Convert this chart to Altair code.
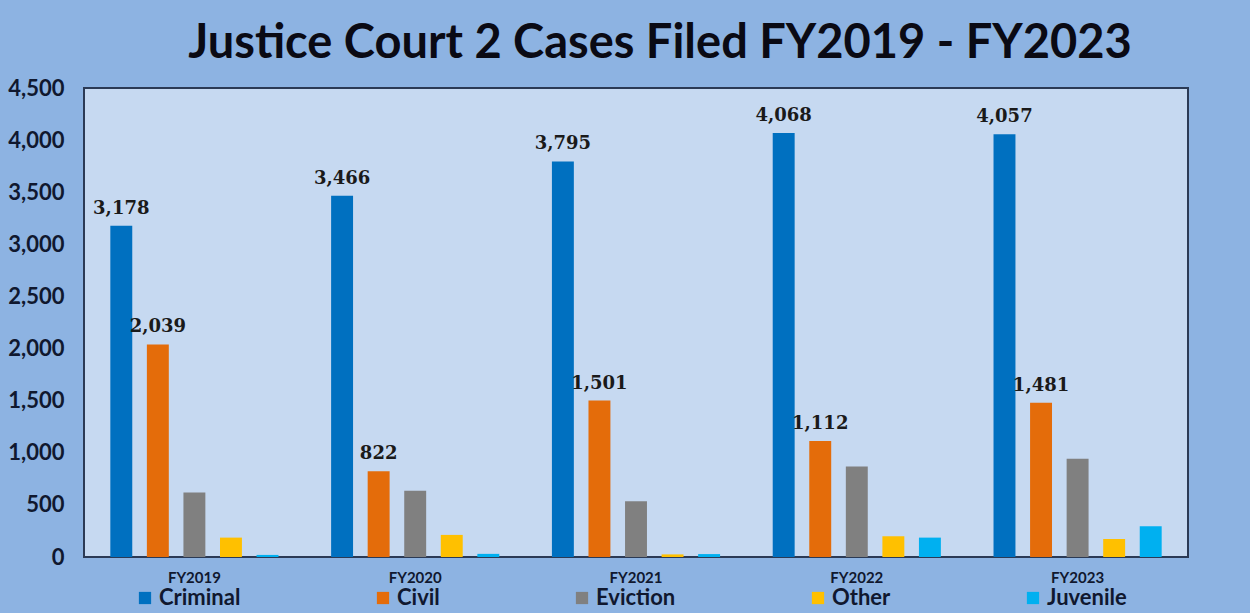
import altair as alt
import pandas as pd

years = ["FY2019", "FY2020", "FY2021", "FY2022", "FY2023"]
case_types = ["Criminal", "Civil", "Eviction", "Other", "Juvenile"]
criminal = [3178, 3466, 3795, 4068, 4057]
civil = [2039, 822, 1501, 1112, 1481]
eviction = [618, 635, 535, 868, 942]
other = [186, 212, 25, 199, 173]
juvenile = [20, 30, 28, 186, 295]
colors = ["#0070C0", "#E46C0A", "#808080", "#FFC000", "#00B0F0"]
y_ticks = [0, 500, 1000, 1500, 2000, 2500, 3000, 3500, 4000, 4500]
labeled_types = ["Criminal", "Civil"]

series = {"Criminal": criminal, "Civil": civil, "Eviction": eviction,
          "Other": other, "Juvenile": juvenile}
rows = []
for t in case_types:
    for yr, v in zip(years, series[t]):
        rows.append({"year": yr, "type": t, "cases": v,
                     "labeled": t in labeled_types})
df = pd.DataFrame(rows)

x_enc = alt.X("year:N", sort=years, title=None,
              scale=alt.Scale(paddingInner=0, paddingOuter=0),
              axis=alt.Axis(labelAngle=0, ticks=False, domain=False,
                            labelFont="Lato", labelFontWeight="bold",
                            labelFontSize=15, labelColor="#10182F",
                            labelPadding=13))
xoff_enc = alt.XOffset("type:N", sort=case_types,
                       scale=alt.Scale(paddingInner=0.4, paddingOuter=0.72))
y_enc = alt.Y("cases:Q", title=None,
              scale=alt.Scale(domain=[0, 4500], nice=False),
              axis=alt.Axis(values=y_ticks, format=",d", grid=False,
                            ticks=False, domain=False, labelFont="Lato",
                            labelFontWeight="bold", labelFontSize=22,
                            labelColor="#10182F", labelPadding=20))

bars = alt.Chart(df).mark_bar().encode(
    x=x_enc,
    xOffset=xoff_enc,
    y=y_enc,
    color=alt.Color("type:N", sort=case_types, title=None,
                    scale=alt.Scale(domain=case_types, range=colors),
                    legend=alt.Legend(orient="none", direction="horizontal",
                                      legendX=50, legendY=499,
                                      symbolType="square", symbolSize=150,
                                      symbolStrokeWidth=0, labelOffset=3,
                                      columnPadding=131,
                                      labelFont="Lato", labelFontWeight="bold",
                                      labelFontSize=22, labelColor="#10182F")),
)

labels = alt.Chart(df).transform_filter(
    alt.datum.labeled == True
).mark_text(dy=-17, font="DejaVu Serif", fontWeight="bold", fontSize=18,
            color="#1A1A1A").encode(
    x=x_enc,
    xOffset=xoff_enc,
    y=y_enc,
    text=alt.Text("cases:Q", format=","),
)

chart = alt.layer(bars, labels).properties(
    width=1104,
    height=469,
    autosize=alt.AutoSizeParams(type="none"),
    padding={"left": 84, "top": 88, "right": 62, "bottom": 56},
    background="#8DB3E2",
    title=alt.TitleParams("Justice Court 2 Cases Filed FY2019 - FY2023",
                          font="Lato", fontWeight="bold", fontSize=47,
                          color="#0A0A14", anchor="middle", offset=9, dx=24),
).configure_view(fill="#C6D9F1", stroke="#2B3A55", strokeWidth=2)

chart.save("out.html", embed_options={"renderer": "svg", "actions": False})
